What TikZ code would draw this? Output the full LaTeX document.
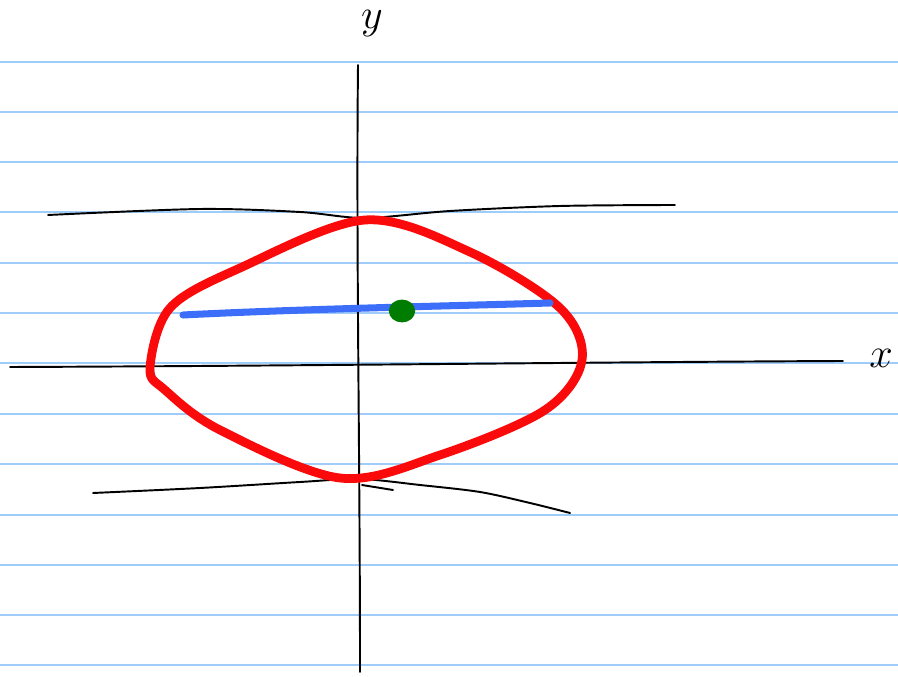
\documentclass[tikz,border=0pt]{standalone}
\usepackage{tikz}
\usetikzlibrary{positioning, shapes.geometric}
\definecolor{cRule}{RGB}{160,204,250}
\definecolor{cRed}{RGB}{250,10,10}
\definecolor{cBlue}{RGB}{60,110,250}
\definecolor{cGreen}{RGB}{0,125,0}
\tikzset{
	ruleline/.style={draw=cRule, line width=0.5pt},
	pen/.style     ={draw=black, line width=0.55pt, line cap=round, line join=round},
	redpen/.style  ={draw=cRed, line width=2.5pt, line cap=round, line join=round},
	bluepen/.style ={draw=cBlue, line width=2pt, line cap=round},
	axlabel/.style ={font=\large, inner sep=1pt},
}
\begin{document}
\begin{tikzpicture}[x=0.01cm, y=-0.01cm]
	\useasboundingbox (0,0) rectangle (898,677);
	% ruled paper
	\foreach \yy in {62,112,162,212,263,313,363,414,464,515,565,615,665}
		\draw[ruleline] (0,\yy) -- (898,\yy);
	% axes
	\draw[pen] (358,65) .. controls (356,250) and (360,450) .. (360,672);
	\draw[pen] (10,367) .. controls (300,366) and (600,362) .. (843,361);
	\node[axlabel] (ylab) at (372,24) {$y$};
	\node[axlabel] (xlab) at (881,358) {$x$};
	% tangent lines
	\draw[pen] plot[smooth] coordinates {(48,215) (200,209) (300,212) (365,218) (450,211) (560,206) (675,205)};
	\draw[pen] plot[smooth] coordinates {(93,493) (200,488) (300,482) (360,479) (420,485) (480,492) (530,503) (570,513)};
	\draw[pen] (362,485) -- (393,490);
	% first pass of the oval
	\draw[pen] plot[smooth cycle, tension=0.55] coordinates {(153,366) (172,306) (244,266) (363,222) (472,254) (562,306) (585,360) (548,410) (442,453) (345,476) (222,430) (168,390)};
	% red oval
	\draw[redpen] plot[smooth cycle, tension=0.55] coordinates {(150,368) (170,308) (240,268) (365,220) (470,252) (560,308) (582,360) (545,410) (440,455) (340,478) (220,430) (165,390)};
	% chord and centre
	\draw[bluepen] (183,315) .. controls (300,309) and (450,306) .. (550,303);
	\node[fill=cGreen, ellipse, minimum width=7.5pt, minimum height=6.5pt, inner sep=0pt] (mid) at (402,311) {};
\end{tikzpicture}
\end{document}
